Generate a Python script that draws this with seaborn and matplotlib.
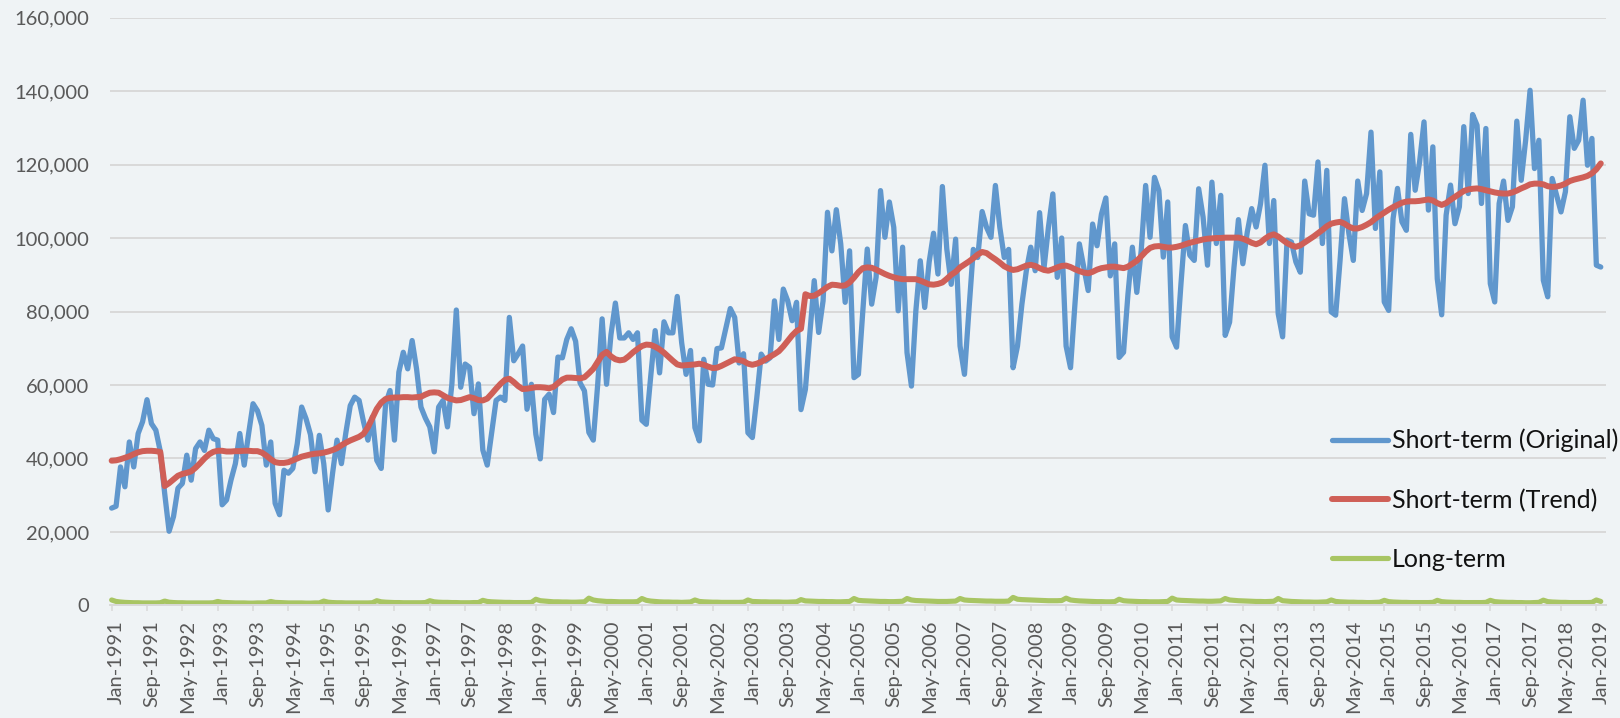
import matplotlib
matplotlib.use("Agg")
import matplotlib.pyplot as plt
import matplotlib.transforms as mtransforms
import pandas as pd
import seaborn as sns

# ---------- DATA (monthly, Jan-1991 .. Feb-2019) ----------
TICK_LABELS = [
    "Jan-1991", "Sep-1991", "May-1992", "Jan-1993", "Sep-1993", "May-1994",
    "Jan-1995", "Sep-1995", "May-1996", "Jan-1997", "Sep-1997", "May-1998",
    "Jan-1999", "Sep-1999", "May-2000", "Jan-2001", "Sep-2001", "May-2002",
    "Jan-2003", "Sep-2003", "May-2004", "Jan-2005", "Sep-2005", "May-2006",
    "Jan-2007", "Sep-2007", "May-2008", "Jan-2009", "Sep-2009", "May-2010",
    "Jan-2011", "Sep-2011", "May-2012", "Jan-2013", "Sep-2013", "May-2014",
    "Jan-2015", "Sep-2015", "May-2016", "Jan-2017", "Sep-2017", "May-2018",
    "Jan-2019",
]
TICK_STEP = 8  # one label every 8 months

SHORT_ORIGINAL = [
    26500, 27000, 37700, 32300, 44500, 37700, 46800, 50000, 56000, 49500, 47700, 42000,
    30500, 20200, 24200, 31900, 33200, 40900, 34100, 42700, 44500, 42200, 47700, 45400,
    45000, 27400, 28700, 34100, 38600, 46800, 38200, 46800, 54900, 53000, 49000, 38200,
    44500, 27800, 24700, 36800, 36000, 37300, 44000, 54000, 50800, 46500, 36400, 46300,
    38600, 26000, 36000, 45000, 38600, 47000, 54400, 56700, 55800, 50000, 45000, 51300,
    39500, 37300, 54900, 58500, 45000, 63500, 68900, 64400, 72100, 64400, 54000, 51000,
    48600, 41800, 54000, 55800, 48600, 60300, 80400, 59400, 65700, 64800, 52200, 60300,
    42300, 38200, 47000, 55800, 56700, 55800, 78400, 66600, 68500, 70600, 53400, 60200,
    46600, 39900, 56100, 57500, 52500, 67600, 67400, 72400, 75300, 71900, 60600, 58400,
    47100, 45000, 60200, 78000, 60200, 73700, 82300, 72800, 72800, 74200, 72400, 74200,
    50400, 49300, 62400, 74800, 63300, 77200, 74200, 74200, 84100, 71500, 62900, 69400,
    48400, 44800, 67000, 60200, 60000, 69900, 70100, 75400, 80800, 78400, 66000, 68500,
    47000, 45700, 56500, 68400, 66500, 67400, 82900, 72400, 86100, 82900, 77500, 82500,
    53300, 58800, 73800, 88400, 74300, 82900, 107000, 96500, 107700, 98400, 82500, 96500,
    62000, 62900, 80200, 97000, 82000, 89300, 112900, 100200, 109800, 102900, 80200, 97500,
    68800, 59700, 80200, 93800, 81100, 93400, 101300, 90200, 114000, 97000, 87400, 99700,
    70600, 62900, 80200, 96900, 94700, 107200, 102900, 100200, 114300, 102900, 94700, 96900,
    64700, 70600, 82000, 91100, 97500, 91100, 106900, 91800, 102900, 112000, 89300, 100000,
    70600, 64700, 82000, 98400, 92000, 85700, 103800, 97900, 106500, 110900, 89700, 98400,
    67500, 68900, 84700, 97500, 85200, 96600, 114300, 100200, 116500, 112900, 94800, 109800,
    73100, 70300, 87600, 103400, 95300, 93900, 113400, 105700, 92600, 115200, 98500, 111600,
    73500, 77100, 92100, 105000, 93000, 101600, 108000, 103000, 109300, 119800, 98500, 110200,
    79400, 73100, 99400, 98900, 93500, 90700, 115500, 106600, 106200, 120700, 98500, 118400,
    79900, 79000, 93900, 110700, 101200, 93900, 115500, 107500, 112100, 128800, 102600, 118000,
    82600, 80300, 105300, 113500, 104400, 102100, 128200, 113000, 120700, 131600, 107600, 124800,
    88900, 79100, 106200, 114400, 103900, 108500, 130300, 112100, 133600, 130700, 109400, 129800,
    87600, 82600, 109400, 115500, 104800, 108500, 131800, 115700, 126600, 140200, 118900, 126600,
    88500, 84000, 116200, 111600, 107100, 112600, 133000, 124400, 126600, 137500, 119800, 127100,
    92600, 92100,
]

SHORT_TREND = [
    39400, 39500, 39800, 40200, 40600, 41200, 41700, 42000, 42100, 42100, 42000, 41800,
    32500, 33300, 34300, 35300, 35800, 36100, 36500, 37500, 38700, 40000, 41100, 41800,
    42100, 42100, 41900, 41900, 42000, 42000, 42100, 42100, 42000, 42000, 41600, 40800,
    39800, 39000, 38800, 38800, 39000, 39500, 40000, 40500, 40800, 41100, 41300, 41400,
    41600, 41900, 42300, 42800, 43600, 44300, 44900, 45400, 45900, 46700, 48500, 51000,
    53500, 55200, 56200, 56500, 56600, 56600, 56700, 56700, 56600, 56700, 56800, 57400,
    57900, 58000, 57900, 57200, 56500, 56100, 55800, 55900, 56300, 56700, 56400, 55900,
    55800, 56300, 57600, 59000, 60300, 61400, 61700, 60800, 59700, 58900, 59000, 59200,
    59400, 59400, 59300, 59100, 59500, 60500, 61500, 62000, 62000, 61900, 61800, 62100,
    63200, 64400, 66300, 68200, 69000, 67800, 67000, 66700, 66900, 67800, 68900, 69800,
    70600, 71000, 70900, 70400, 69700, 68800, 67700, 66600, 65600, 65300, 65400, 65500,
    65600, 65800, 65500, 65000, 64600, 64700, 65200, 65800, 66400, 67000, 66800, 66500,
    65800, 65500, 65800, 66300, 67000, 67700, 68400, 69200, 70500, 72000, 73500, 74700,
    75300, 84700, 84200, 84300, 85000, 85800, 86700, 87300, 87200, 87000, 87100, 87900,
    89200, 90700, 91800, 92000, 91900, 91400, 90800, 90200, 89700, 89300, 89000, 88800,
    88800, 88800, 88800, 88400, 87900, 87400, 87300, 87500, 87900, 88900, 90000, 90800,
    92000, 92800, 93600, 94500, 95500, 96200, 95900, 95000, 94200, 93300, 92300, 91700,
    91300, 91500, 92000, 92500, 92700, 92400, 91800, 91300, 91100, 91500, 92000, 92400,
    92500, 92100, 91500, 91000, 90600, 90400, 90800, 91400, 91800, 92000, 92200, 92200,
    92000, 91800, 92200, 93000, 93800, 95000, 96300, 97300, 97700, 97800, 97600, 97400,
    97400, 97600, 97900, 98300, 98700, 99000, 99300, 99600, 99800, 99900, 100000, 100000,
    100100, 100100, 100100, 100100, 99800, 99300, 98700, 98300, 98800, 99800, 100600, 101000,
    100400, 99500, 98600, 98000, 97600, 98000, 98800, 99600, 100400, 101300, 102200, 103200,
    103900, 104200, 104400, 103900, 103100, 102600, 102600, 103000, 103600, 104300, 105300, 106100,
    106900, 107700, 108400, 109000, 109600, 109900, 110000, 110000, 110100, 110300, 110500, 110200,
    109500, 109000, 109500, 110400, 111200, 112000, 112800, 113200, 113400, 113500, 113300, 113000,
    112700, 112400, 112200, 112100, 112100, 112400, 112900, 113500, 114000, 114600, 114800, 114800,
    114600, 114100, 113900, 114000, 114300, 114800, 115500, 115900, 116200, 116500, 116900, 117600,
    118700, 120300,
]

LONG_TERM = [
    1500, 1100, 950, 850, 800, 750, 750, 700, 700, 700, 700, 750,
    1200, 900, 800, 750, 750, 700, 700, 700, 700, 700, 700, 750,
    1100, 850, 800, 750, 700, 700, 700, 650, 650, 700, 700, 700,
    1100, 850, 800, 750, 700, 700, 700, 700, 650, 650, 700, 700,
    1200, 900, 800, 750, 750, 700, 700, 700, 700, 700, 700, 750,
    1300, 1000, 900, 850, 800, 800, 750, 750, 750, 750, 750, 800,
    1300, 1000, 900, 850, 850, 800, 800, 750, 750, 750, 800, 800,
    1400, 1100, 1000, 950, 900, 850, 850, 800, 800, 800, 800, 850,
    1700, 1300, 1200, 1100, 1000, 1000, 950, 950, 900, 900, 950, 1000,
    2000, 1500, 1300, 1200, 1100, 1100, 1050, 1000, 1000, 1000, 1000, 1050,
    1900, 1400, 1200, 1100, 1000, 950, 950, 900, 900, 850, 900, 950,
    1500, 1100, 1000, 950, 900, 900, 850, 850, 850, 850, 850, 900,
    1500, 1100, 1050, 1000, 1000, 950, 950, 950, 900, 900, 950, 1000,
    1600, 1250, 1200, 1150, 1100, 1100, 1050, 1050, 1000, 1000, 1050, 1100,
    1900, 1400, 1300, 1250, 1200, 1150, 1100, 1100, 1050, 1050, 1100, 1150,
    1900, 1500, 1350, 1300, 1250, 1200, 1150, 1100, 1100, 1100, 1150, 1200,
    1900, 1500, 1400, 1350, 1300, 1250, 1200, 1200, 1150, 1150, 1150, 1200,
    2200, 1700, 1600, 1550, 1500, 1450, 1400, 1350, 1300, 1300, 1300, 1350,
    2000, 1500, 1350, 1250, 1200, 1150, 1100, 1050, 1050, 1000, 1000, 1050,
    1700, 1300, 1200, 1150, 1100, 1050, 1050, 1000, 1000, 1000, 1050, 1100,
    2000, 1500, 1400, 1350, 1300, 1250, 1200, 1200, 1150, 1150, 1200, 1250,
    1900, 1500, 1400, 1300, 1250, 1200, 1150, 1100, 1100, 1050, 1100, 1150,
    1900, 1300, 1200, 1100, 1050, 1000, 950, 950, 900, 900, 950, 1000,
    1500, 1100, 1000, 950, 900, 900, 850, 850, 800, 800, 850, 900,
    1400, 1050, 950, 900, 850, 850, 800, 800, 800, 800, 800, 850,
    1400, 1050, 950, 900, 850, 850, 800, 800, 800, 800, 800, 850,
    1400, 1050, 950, 900, 850, 850, 800, 800, 750, 750, 800, 850,
    1450, 1050, 950, 900, 850, 850, 800, 800, 800, 800, 800, 850,
    1500, 1100,
]

SERIES_NAMES = ["Short-term (Original)", "Short-term (Trend)", "Long-term"]
SERIES_COLORS = ["#6097CD", "#CF5F57", "#A8C563"]
SERIES_WIDTHS = [3.8, 4.3, 3.7]
# ------------------------------

BG = "#EFF3F5"
GRID = "#D9D9D9"
TEXT = "#595959"


def main():
    sns.set_theme(style="white")
    plt.rcParams["font.family"] = ["Lato", "DejaVu Sans"]

    df = pd.DataFrame({
        "month": range(len(SHORT_ORIGINAL)),
        SERIES_NAMES[0]: SHORT_ORIGINAL,
        SERIES_NAMES[1]: SHORT_TREND,
        SERIES_NAMES[2]: LONG_TERM,
    })

    fig = plt.figure(figsize=(16.2, 7.18), dpi=100, facecolor=BG)
    # plot area: x from -0.3 to 338.2 months, y from 0 to 160,000
    ax = fig.add_axes([0.0681, 0.1567, 0.9233, 0.8189], facecolor=BG)

    for name, color, lw in zip(SERIES_NAMES, SERIES_COLORS, SERIES_WIDTHS):
        sns.lineplot(data=df, x="month", y=name, ax=ax, color=color,
                     linewidth=lw, label=name, solid_joinstyle="round",
                     solid_capstyle="round", clip_on=False)

    ax.set_xlim(-0.3, 338.2)
    ax.set_ylim(0, 160000)
    ax.set_xlabel("")
    ax.set_ylabel("")

    # y axis: gridlines every 20,000
    ax.set_yticks(range(0, 160001, 20000))
    ax.set_yticklabels([f"{v:,}" for v in range(0, 160001, 20000)])
    ax.yaxis.grid(True, color=GRID, linewidth=1.4)
    ax.set_axisbelow(True)
    ax.tick_params(axis="y", length=0, pad=15, labelsize=14.5, labelcolor=TEXT)

    # x axis: label every 8 months
    ax.set_xticks(range(0, TICK_STEP * len(TICK_LABELS), TICK_STEP))
    ax.set_xticklabels(TICK_LABELS, rotation=90, va="top", ha="center")
    ax.tick_params(axis="x", direction="out", length=4.3, width=1.1, color=GRID,
                   pad=6, labelsize=14.5, labelcolor=TEXT, bottom=True)
    shift = mtransforms.ScaledTranslation(5 / 100, 0, fig.dpi_scale_trans)
    for lbl in ax.get_xticklabels():
        lbl.set_transform(lbl.get_transform() + shift)

    for side in ["top", "right", "left"]:
        ax.spines[side].set_visible(False)
    ax.spines["bottom"].set_color(GRID)
    ax.spines["bottom"].set_linewidth(1.4)

    ax.legend(loc="center left", bbox_to_anchor=(0.8222, 0.3036),
              bbox_transform=fig.transFigure, frameon=False, fontsize=18,
              handlelength=2.25, handletextpad=0.15, labelspacing=1.45,
              borderpad=0, borderaxespad=0, labelcolor="#111111")

    fig.savefig("out.png", dpi=100, facecolor=BG)
    plt.close(fig)


if __name__ == "__main__":
    main()
